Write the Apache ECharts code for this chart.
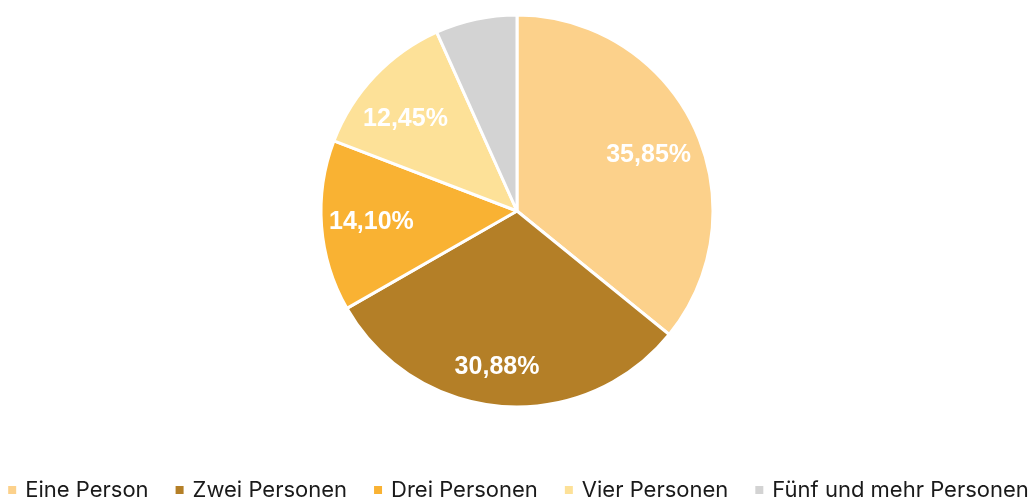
<!DOCTYPE html>
<html>
<head>
<meta charset="utf-8">
<script src="https://cdn.jsdelivr.net/npm/echarts@6/dist/echarts.min.js"></script>
<style>
  html, body { margin: 0; padding: 0; background: #fff; }
  #main { width: 1035px; height: 503px; }
</style>
</head>
<body>
<div id="main"></div>
<script>
var categories = ['Eine Person', 'Zwei Personen', 'Drei Personen', 'Vier Personen', 'Fünf und mehr Personen']
var shares = [35.85, 30.88, 14.10, 12.45, 6.72]
var showLabel = [true, true, true, true, false]
var colors = ['#FCD18B', '#B47F27', '#F9B233', '#FDE198', '#D3D3D3']

// kleine Korrekturen der Beschriftungslage (wie im Original)
var labelShift = [[-2, 8], [-8, 9], [2, 0], [-4, 10], [0, 0]]

var chart = echarts.init(document.getElementById('main'))

var pieData = categories.map(function (name, i) {
    return { name: name, value: shares[i] }
})
// zweite, unsichtbare Serie nur für die Beschriftung (weiter außen)
var labelData = categories.map(function (name, i) {
    return {
        name: name,
        value: shares[i],
        label: { show: showLabel[i], offset: labelShift[i] }
    }
})

var option = {
    backgroundColor: '#ffffff',
    color: colors,
    animation: false,
    legend: {
        data: categories,
        bottom: 2,
        left: 'center',
        width: 1034,
        padding: 0,
        itemWidth: 16,
        itemHeight: 10,
        itemGap: 25,
        icon: 'path://M0,0 L8,0 L8,8 L0,8 Z',
        textStyle: {
            fontFamily: 'Inter',
            fontSize: 22,
            color: '#1a1a1a'
        }
    },
    series: [{
        type: 'pie',
        center: [517, 211],
        radius: [0, 196],
        startAngle: 90,
        clockwise: true,
        silent: true,
        label: { show: false },
        labelLine: { show: false },
        itemStyle: { borderColor: '#ffffff', borderWidth: 3 },
        data: pieData
    }, {
        type: 'pie',
        center: [517, 211],
        radius: [94, 196],
        startAngle: 90,
        clockwise: true,
        silent: true,
        legendHoverLink: false,
        itemStyle: { color: 'rgba(0,0,0,0)', borderWidth: 0 },
        label: {
            show: true,
            position: 'inside',
            fontFamily: 'Liberation Sans',
            fontSize: 25,
            fontWeight: 'bold',
            color: '#ffffff',
            formatter: function (p) {
                return p.value.toFixed(2).replace('.', ',') + '%'
            }
        },
        labelLine: { show: false },
        data: labelData
    }]
}
chart.setOption(option)
</script>
</body>
</html>
